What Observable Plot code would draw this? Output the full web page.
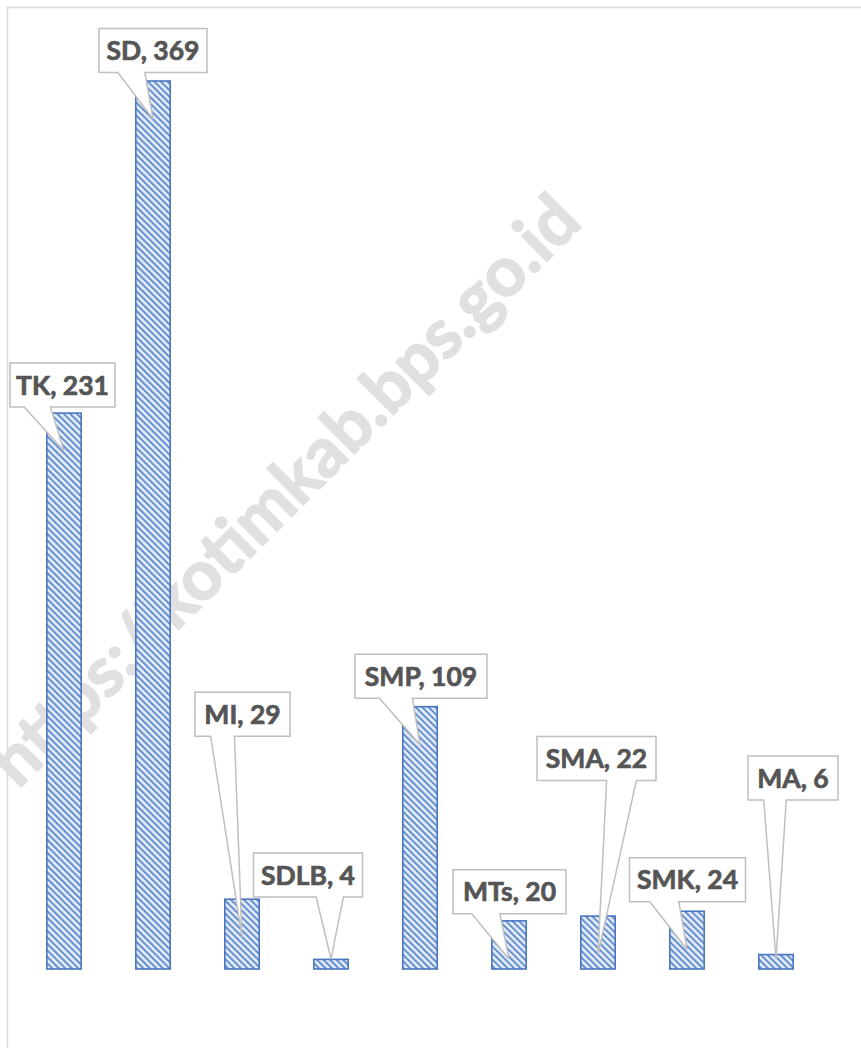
<!DOCTYPE html>
<html><head><meta charset="utf-8">
<script src="https://cdn.jsdelivr.net/npm/d3@7"></script>
<script src="https://cdn.jsdelivr.net/npm/@observablehq/plot@0.6"></script>
<style>
  html, body { margin: 0; padding: 0; background: #fff; }
  #chart svg { display: block; background: #fff; }
</style>
</head><body><div id="chart"></div>
<script>
// ---- data ----
const categories = ["TK", "SD", "MI", "SDLB", "SMP", "MTs", "SMA", "SMK", "MA"];
const counts = [231, 369, 29, 4, 109, 20, 22, 24, 6];
const watermark = ["https://kotimkab.bps.go.id"];

// ---- callout layout (pixels) ----
const boxWidth = [105, 108, 95, 109, 132, 113, 119, 116, 90];
const boxDx = [-1.5, 0, 0.5, -23, 1, 0.5, -1.5, 0.5, 17];
const boxDy = [-66, -68.5, -223, -84, -68.5, -67, -195.5, -69.5, -181];
const wedgeAt = [0.26, 0.3, 0.29, 0.7, 0.31, 0.29, 0.71, 0.3, 0.3];
const boxHeight = 44;

const rows = categories.map((c, i) => ({cat: c, value: counts[i], label: `${c}, ${counts[i]}`}));

function defsMark() {
  const svgNS = "http://www.w3.org/2000/svg";
  const defs = document.createElementNS(svgNS, "defs");
  defs.innerHTML = `
    <pattern id="hatch" patternUnits="userSpaceOnUse" width="4.6" height="4.6" patternTransform="rotate(-45)">
      <rect width="4.6" height="4.6" fill="#dfe8f5"/>
      <rect x="0" y="0" width="1.7" height="4.6" fill="#5a86cc"/>
    </pattern>`;
  return defs;
}

function borderMark() {
  const r = d3.create("svg:rect")
    .attr("x", 7.5).attr("y", 7.5).attr("width", 1000).attr("height", 1200)
    .attr("fill", "none").attr("stroke", "#d9d9d9").attr("stroke-width", 1.5);
  return r.node();
}

function calloutMark(index, scales) {
  const x = scales.x, y = scales.y;
  let bw = x.bandwidth;
  if (typeof bw === "function") bw = bw();
  if (bw == null) bw = 0;
  const g = d3.create("svg:g");
  rows.forEach((d, i) => {
    const cx = x(d.cat) + bw / 2;
    const top = y(d.value), base = y(0);
    const tx = cx;
    const ty = Math.min(top + 38, base - 10);
    const bcx = cx + boxDx[i];
    const bcy = ty + boxDy[i];
    const w = boxWidth[i];
    const L = bcx - w / 2, R = bcx + w / 2, T = bcy - boxHeight / 2, B = bcy + boxHeight / 2;
    const wc = L + w * wedgeAt[i], ww = w * 0.25;
    const b1 = wc - ww / 2, b2 = wc + ww / 2;
    const p = `M${L},${T}H${R}V${B}H${b2}L${tx},${ty}L${b1},${B}H${L}Z`;
    g.append("path").attr("d", p).attr("fill", "#fff").attr("stroke", "#bfbfbf").attr("stroke-width", 1.5).attr("stroke-linejoin", "miter");
    g.append("text").attr("x", bcx).attr("y", bcy).attr("dy", "0.36em")
      .attr("text-anchor", "middle")
      .attr("font-family", "Lato, 'Open Sans', sans-serif")
      .attr("font-weight", "bold").attr("font-size", 26.5).attr("fill", "#555555")
      .attr("stroke", "#555555").attr("stroke-width", 0.7).attr("paint-order", "stroke")
      .text(d.label);
  });
  return g.node();
}

const plot = Plot.plot({
  width: 861,
  height: 1048,
  marginLeft: 17,
  marginRight: 38,
  marginTop: 81,
  marginBottom: 79,
  style: {background: "#fff"},
  x: {domain: categories, paddingInner: 0.6, paddingOuter: 0.3, axis: null},
  y: {domain: [0, 369], axis: null},
  marks: [
    defsMark,
    borderMark,
    Plot.text(watermark, {
      text: d => d, frameAnchor: "top-left", dx: 268, dy: 410, rotate: -45,
      textAnchor: "middle", lineAnchor: "middle",
      fontSize: 69, fontWeight: "bold", fontFamily: "Lato, 'Liberation Sans', sans-serif",
      fill: "#e0e0e0", stroke: "#e0e0e0", strokeWidth: 1.6
    }),
    Plot.barY(rows, {x: "cat", y: "value", fill: "url(#hatch)", stroke: "#4a76c0", strokeWidth: 1.6, insetLeft: 0.8, insetRight: 0.8}),
    calloutMark
  ]
});
document.getElementById("chart").appendChild(plot);
</script>
</body></html>
